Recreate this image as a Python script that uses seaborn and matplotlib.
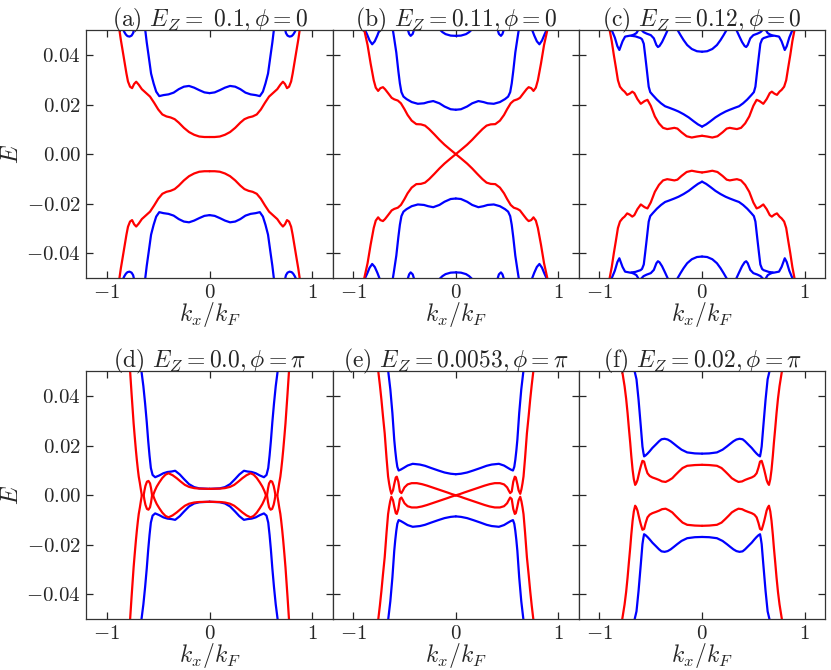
import numpy as np
import pandas as pd
import matplotlib
matplotlib.use("Agg")
import matplotlib.pyplot as plt
import seaborn as sns

sns.set_style("ticks")
plt.rcParams["font.family"] = "serif"
plt.rcParams["font.serif"] = ["cmr10", "DejaVu Serif"]
plt.rcParams["mathtext.fontset"] = "cm"
plt.rcParams["axes.formatter.use_mathtext"] = True
plt.rcParams["axes.unicode_minus"] = True

# bands, quadrant k >= 0, E >= 0 (the figure is symmetric in k and in E)
titles = [r"(a) $E_Z =\ 0.1, \phi = 0$", r"(b) $E_Z = 0.11, \phi = 0$", r"(c) $E_Z = 0.12, \phi = 0$",
          r"(d) $E_Z = 0.0, \phi = \pi$", r"(e) $E_Z = 0.0053, \phi = \pi$", r"(f) $E_Z = 0.02, \phi = \pi$"]

# (a)
red_a_k = [0.0, 0.05, 0.1, 0.15, 0.2, 0.25, 0.3, 0.34, 0.38, 0.42, 0.46, 0.5, 0.54, 0.58, 0.62, 0.66, 0.69,
           0.715, 0.735, 0.755, 0.775, 0.795, 0.81, 0.83, 0.85, 0.865, 0.88]
red_a_E = [0.0069, 0.0069, 0.0071, 0.0078, 0.0089, 0.0106, 0.0127, 0.0141, 0.0148, 0.0152, 0.0160, 0.0180,
           0.0207, 0.0232, 0.0247, 0.0262, 0.0280, 0.0292, 0.0283, 0.0266, 0.0272, 0.0293, 0.0325, 0.0375,
           0.0425, 0.0462, 0.0505]
blue_a_k = [0.0, 0.05, 0.1, 0.15, 0.2, 0.25, 0.3, 0.35, 0.4, 0.45, 0.49, 0.52, 0.545, 0.57, 0.595, 0.612, 0.628]
blue_a_E = [0.0246, 0.0249, 0.0258, 0.0268, 0.0275, 0.0272, 0.0262, 0.0248, 0.0241, 0.0238, 0.0234, 0.0252,
            0.0285, 0.0325, 0.0400, 0.0450, 0.0505]
blue_a2_k = [0.735, 0.745, 0.76, 0.78, 0.80, 0.815, 0.83, 0.845]
blue_a2_E = [0.0505, 0.0488, 0.0478, 0.0474, 0.0476, 0.0482, 0.0492, 0.0505]

# (b)
red_b_k = [0.0, 0.05, 0.11, 0.16, 0.21, 0.26, 0.3, 0.34, 0.385, 0.43, 0.47, 0.5, 0.535, 0.565, 0.6, 0.625,
           0.66, 0.69, 0.71, 0.735, 0.757, 0.78, 0.8, 0.83, 0.86, 0.893]
red_b_E = [0.0, 0.0017, 0.0038, 0.0058, 0.0080, 0.0101, 0.0115, 0.0120, 0.0121, 0.0135, 0.0158, 0.0181,
           0.0205, 0.0216, 0.0221, 0.0227, 0.0246, 0.0262, 0.0270, 0.0266, 0.0255, 0.0268, 0.0298, 0.0365,
           0.0440, 0.0502]
blue_b_k = [0.0, 0.05, 0.11, 0.16, 0.22, 0.27, 0.31, 0.37, 0.43, 0.48, 0.51, 0.53, 0.545, 0.56, 0.58, 0.6, 0.615]
blue_b_E = [0.0179, 0.0181, 0.0192, 0.0205, 0.0214, 0.0210, 0.0205, 0.0203, 0.0210, 0.0222, 0.0232, 0.0250,
            0.0285, 0.0335, 0.0410, 0.0465, 0.0505]
blue_b2_k = [0.0, 0.05, 0.1, 0.13, 0.155, 0.17]
blue_b2_E = [0.0477, 0.0478, 0.0484, 0.0492, 0.0502, 0.0510]
blue_b3_k = [0.405, 0.42, 0.44, 0.455, 0.47]
blue_b3_E = [0.0505, 0.0485, 0.0477, 0.0485, 0.0505]
blue_b4_k = [0.74, 0.765, 0.79, 0.815, 0.84, 0.865, 0.89]
blue_b4_E = [0.0505, 0.0478, 0.0455, 0.0443, 0.0458, 0.0483, 0.0505]

# (c)
red_c_k = [0.0, 0.05, 0.1, 0.15, 0.2, 0.24, 0.27, 0.31, 0.34, 0.38, 0.42, 0.46, 0.5, 0.532, 0.56, 0.597,
           0.63, 0.66, 0.68, 0.705, 0.73, 0.755, 0.775, 0.8, 0.82, 0.84, 0.86, 0.88, 0.903]
red_c_E = [0.0074, 0.0071, 0.0067, 0.0072, 0.0088, 0.0103, 0.0106, 0.0103, 0.0101, 0.0106, 0.0124, 0.0152,
           0.0195, 0.0219, 0.0214, 0.0203, 0.0222, 0.0246, 0.0252, 0.0244, 0.0239, 0.0252, 0.0259, 0.0272,
           0.0298, 0.0350, 0.0400, 0.0455, 0.0505]
blue_c_k = [0.0, 0.04, 0.08, 0.13, 0.18, 0.23, 0.27, 0.32, 0.36, 0.4, 0.44, 0.48, 0.505, 0.52, 0.54, 0.555,
            0.568, 0.585, 0.6, 0.65, 0.7, 0.75, 0.775, 0.806, 0.825, 0.85, 0.885]
blue_c_E = [0.0111, 0.0120, 0.0132, 0.0148, 0.0161, 0.0172, 0.0179, 0.0187, 0.0193, 0.0205, 0.0220, 0.0238,
            0.0250, 0.0272, 0.0346, 0.0400, 0.0445, 0.0463, 0.0468, 0.0475, 0.0478, 0.0474, 0.0455, 0.0420,
            0.0435, 0.0470, 0.0505]
blue_c2_k = [0.0, 0.05, 0.1, 0.145, 0.18, 0.21, 0.245]
blue_c2_E = [0.0413, 0.0415, 0.0424, 0.0440, 0.0460, 0.0480, 0.0505]
blue_c3_k = [0.33, 0.36, 0.39, 0.415, 0.43, 0.445, 0.47, 0.5, 0.54, 0.57, 0.6]
blue_c3_E = [0.0505, 0.0478, 0.0452, 0.0436, 0.0432, 0.0440, 0.0467, 0.0480, 0.0486, 0.0492, 0.0505]
blue_c4_k = [0.615, 0.64, 0.665, 0.69]
blue_c4_E = [0.0505, 0.0488, 0.0482, 0.0478]

# (d)
red_d_k = [0.0, 0.1, 0.15, 0.2, 0.24, 0.28, 0.32, 0.36, 0.4, 0.43, 0.46, 0.49, 0.515, 0.535, 0.55]
red_d_E = [0.0026, 0.0027, 0.0029, 0.0034, 0.0042, 0.0055, 0.0069, 0.0081, 0.0089, 0.0083, 0.0070, 0.0052,
           0.0035, 0.0017, 0.0]
red_d2_k = [0.56, 0.57, 0.58, 0.595, 0.61, 0.625, 0.635, 0.642]
red_d2_E = [0.0, 0.0028, 0.0048, 0.0058, 0.0055, 0.0038, 0.0018, 0.0]
red_d3_k = [0.66, 0.67, 0.679, 0.69, 0.698, 0.708, 0.718, 0.73, 0.74, 0.75, 0.76, 0.775]
red_d3_E = [0.0, 0.0025, 0.0049, 0.0075, 0.0102, 0.0140, 0.0183, 0.0240, 0.0290, 0.0350, 0.0410, 0.0505]
blue_d_k = [0.0, 0.1, 0.15, 0.2, 0.25, 0.29, 0.335, 0.37, 0.41, 0.45, 0.49, 0.53, 0.555, 0.572, 0.585, 0.598,
            0.612, 0.628, 0.645, 0.665]
blue_d_E = [0.0026, 0.0028, 0.0033, 0.0045, 0.0066, 0.0084, 0.0099, 0.0096, 0.0094, 0.0089, 0.0080, 0.0073,
            0.0082, 0.0110, 0.0160, 0.0220, 0.0295, 0.0370, 0.0440, 0.0505]

# (e)
red_e_k = [0.0, 0.04, 0.08, 0.13, 0.18, 0.23, 0.28, 0.33, 0.38, 0.43, 0.47, 0.5, 0.515, 0.53, 0.545, 0.56,
           0.575, 0.585, 0.6, 0.612, 0.628, 0.64, 0.65, 0.66, 0.675, 0.693, 0.71, 0.725, 0.74, 0.757]
red_e_E = [0.0, 0.0005, 0.0011, 0.0018, 0.0025, 0.0032, 0.0039, 0.0045, 0.0049, 0.0049, 0.0044, 0.0032,
           0.0020, 0.0009, 0.0015, 0.0055, 0.0075, 0.0072, 0.0045, 0.0020, 0.0006, 0.0025, 0.0048, 0.0076,
           0.0150, 0.0250, 0.0320, 0.0386, 0.0445, 0.0505]
blue_e_k = [0.0, 0.05, 0.11, 0.17, 0.24, 0.3, 0.35, 0.42, 0.47, 0.51, 0.535, 0.557, 0.57, 0.58, 0.59, 0.6,
            0.618, 0.638, 0.66]
blue_e_E = [0.0085, 0.0087, 0.0092, 0.0100, 0.0110, 0.0119, 0.0124, 0.0127, 0.0120, 0.0110, 0.0104, 0.0100,
            0.0115, 0.0143, 0.0180, 0.0224, 0.0332, 0.0427, 0.0505]

# (f)
red_f_k = [0.0, 0.07, 0.145, 0.19, 0.226, 0.26, 0.29, 0.325, 0.355, 0.39, 0.419, 0.45, 0.484, 0.51, 0.532,
           0.55, 0.565, 0.581, 0.595, 0.606, 0.618, 0.629, 0.64, 0.652, 0.665, 0.677, 0.69, 0.7, 0.713, 0.726,
           0.74, 0.755, 0.78]
red_f_E = [0.0123, 0.0122, 0.0119, 0.0110, 0.0096, 0.0082, 0.0069, 0.0060, 0.0054, 0.0056, 0.0062, 0.0067,
           0.0072, 0.0078, 0.0089, 0.0112, 0.0136, 0.0139, 0.0120, 0.0103, 0.0082, 0.0062, 0.0050, 0.0042,
           0.0065, 0.0103, 0.0160, 0.0211, 0.0270, 0.0332, 0.0390, 0.0440, 0.0505]
blue_f_k = [0.0, 0.07, 0.145, 0.2, 0.242, 0.275, 0.306, 0.335, 0.365, 0.395, 0.419, 0.45, 0.484, 0.51, 0.532,
            0.55, 0.565, 0.573, 0.581, 0.597, 0.619, 0.639, 0.66]
blue_f_E = [0.0168, 0.0169, 0.0173, 0.0184, 0.0197, 0.0208, 0.0218, 0.0225, 0.0228, 0.0226, 0.0218, 0.0205,
            0.0191, 0.0178, 0.0168, 0.0161, 0.0157, 0.0175, 0.0197, 0.0278, 0.0386, 0.0468, 0.0505]

bands = [
    (0, "blue", blue_a_k, blue_a_E), (0, "blue", blue_a2_k, blue_a2_E), (0, "red", red_a_k, red_a_E),
    (1, "blue", blue_b_k, blue_b_E), (1, "blue", blue_b2_k, blue_b2_E), (1, "blue", blue_b3_k, blue_b3_E),
    (1, "blue", blue_b4_k, blue_b4_E), (1, "red", red_b_k, red_b_E),
    (2, "blue", blue_c_k, blue_c_E), (2, "blue", blue_c2_k, blue_c2_E), (2, "blue", blue_c3_k, blue_c3_E),
    (2, "blue", blue_c4_k, blue_c4_E), (2, "red", red_c_k, red_c_E),
    (3, "blue", blue_d_k, blue_d_E), (3, "red", red_d_k, red_d_E), (3, "red", red_d2_k, red_d2_E),
    (3, "red", red_d3_k, red_d3_E),
    (4, "blue", blue_e_k, blue_e_E), (4, "red", red_e_k, red_e_E),
    (5, "blue", blue_f_k, blue_f_E), (5, "red", red_f_k, red_f_E),
]

# mirror every quadrant piece into the four quadrants
rows = []
piece = 0
for panel, col, ks, es in bands:
    for sk in (1, -1):
        for se in (1, -1):
            for i, (k, e) in enumerate(zip(ks, es)):
                rows.append((panel, col, piece, i, sk * k, se * e))
            piece += 1
df = pd.DataFrame(rows, columns=["panel", "color", "piece", "order", "k", "E"])

fig = plt.figure(figsize=(8.31, 6.7), dpi=100)
gs = fig.add_gridspec(2, 3, left=0.104, right=0.993, top=0.955, bottom=0.0757, wspace=0, hspace=0.376)

for p in range(6):
    ax = fig.add_subplot(gs[p // 3, p % 3])
    sub = df[df["panel"] == p]
    for col in ["blue", "red"]:
        s = sub[sub["color"] == col]
        sns.lineplot(data=s, x="k", y="E", units="piece", estimator=None, sort=False,
                     color=col, linewidth=1.6, ax=ax, legend=False)
    ax.set_xlim(-1.2, 1.2)
    ax.set_ylim(-0.05, 0.05)
    ax.set_xticks([-1, 0, 1])
    ax.set_yticks([-0.04, -0.02, 0.0, 0.02, 0.04])
    ax.tick_params(direction="in", top=True, right=True, length=5, width=0.9, labelsize=15, pad=4)
    for sp in ax.spines.values():
        sp.set_color("#333333")
        sp.set_linewidth(0.9)
    ax.set_xlabel(r"$k_x/k_F$", fontsize=17, labelpad=-1)
    if p % 3 == 0:
        ax.set_ylabel(r"$E$", fontsize=17, labelpad=2)
    else:
        ax.set_ylabel("")
        ax.set_yticklabels([])
    ax.set_title(titles[p], fontsize=17, pad=3)

fig.savefig("out.png", dpi=100)
